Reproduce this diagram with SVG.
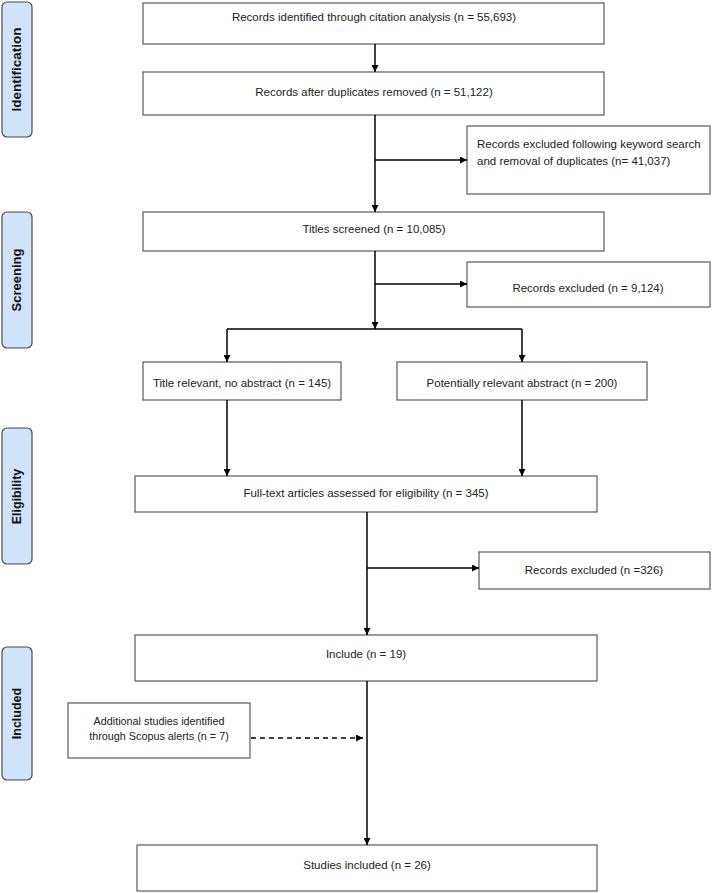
<svg xmlns="http://www.w3.org/2000/svg" width="714" height="893" viewBox="0 0 714 893">
<defs>
<marker id="ah" viewBox="0 0 10 10" refX="10" refY="5" markerWidth="7" markerHeight="7" markerUnits="userSpaceOnUse" orient="auto">
<path d="M0,0 L10,5 L0,10 z" fill="#000"/>
</marker>
<style>
.box{fill:#fff;stroke:#5a5a5a;stroke-width:1.2}
.phase{fill:#cfe3fb;stroke:#4a4a4a;stroke-width:1.2}
.t{font-family:"Liberation Sans","DejaVu Sans",sans-serif;font-size:11.5px;fill:#222}
.c{text-anchor:middle}
.p{font-family:"Liberation Sans","DejaVu Sans",sans-serif;font-size:12.5px;font-weight:bold;fill:#111;text-anchor:middle}
.ln{fill:none;stroke:#000;stroke-width:1.5}
.dash{stroke-dasharray:5,4}
</style>
</defs>
<rect width="714" height="893" fill="#fff"/>

<g id="phase-identification"><rect class="phase" x="2" y="2" width="30" height="135" rx="5"/><text class="p" transform="translate(21,69.5) rotate(-90)" style="font-size:13.5px">Identification</text></g>
<g id="phase-screening"><rect class="phase" x="2" y="212" width="30" height="136" rx="5"/><text class="p" transform="translate(21,280) rotate(-90)" style="font-size:13px">Screening</text></g>
<g id="phase-eligibility"><rect class="phase" x="2" y="428" width="30" height="136" rx="5"/><text class="p" transform="translate(21,496.5) rotate(-90)">Eligibility</text></g>
<g id="phase-included"><rect class="phase" x="2" y="647" width="30" height="133" rx="5"/><text class="p" transform="translate(21,713.5) rotate(-90)">Included</text></g>

<g id="n1"><rect class="box" x="143" y="3" width="461" height="41"/><text class="t c" x="374" y="21">Records identified through citation analysis (n = 55,693)</text></g>
<g id="n2"><rect class="box" x="143" y="72" width="461" height="43"/><text class="t c" x="374" y="96">Records after duplicates removed (n = 51,122)</text></g>
<g id="n3"><rect class="box" x="467" y="126" width="243" height="68"/><text class="t" x="477" y="148">Records excluded following keyword search</text><text class="t" x="477" y="165">and removal of duplicates (n= 41,037)</text></g>
<g id="n4"><rect class="box" x="143" y="212" width="461" height="39"/><text class="t c" x="374" y="233">Titles screened (n = 10,085)</text></g>
<g id="n5"><rect class="box" x="467" y="262" width="243" height="45"/><text class="t c" x="588" y="292">Records excluded (n = 9,124)</text></g>
<g id="n6"><rect class="box" x="143" y="362" width="198" height="38"/><text class="t c" x="242" y="387">Title relevant, no abstract (n = 145)</text></g>
<g id="n7"><rect class="box" x="397" y="362" width="250" height="38"/><text class="t c" x="522" y="387">Potentially relevant abstract (n = 200)</text></g>
<g id="n8"><rect class="box" x="135" y="476" width="462" height="36"/><text class="t c" x="366" y="497">Full-text articles assessed for eligibility (n = 345)</text></g>
<g id="n9"><rect class="box" x="479" y="552" width="231" height="37"/><text class="t c" x="594" y="574">Records excluded (n =326)</text></g>
<g id="n10"><rect class="box" x="135" y="635" width="462" height="46"/><text class="t c" x="366" y="658">Include (n = 19)</text></g>
<g id="n11"><rect class="box" x="68" y="703" width="182" height="55"/><text class="t c" x="159" y="725" style="font-size:10.8px">Additional studies identified</text><text class="t c" x="159" y="740" style="font-size:10.8px">through Scopus alerts (n = 7)</text></g>
<g id="n12"><rect class="box" x="137" y="845" width="460" height="46"/><text class="t c" x="367" y="869">Studies included (n = 26)</text></g>

<g id="connectors">
<line class="ln" x1="375" y1="44" x2="375" y2="72" marker-end="url(#ah)"/>
<line class="ln" x1="375" y1="115" x2="375" y2="212" marker-end="url(#ah)"/>
<line class="ln" x1="375" y1="160" x2="467" y2="160" marker-end="url(#ah)"/>
<line class="ln" x1="375" y1="251" x2="375" y2="329" marker-end="url(#ah)"/>
<line class="ln" x1="375" y1="284" x2="467" y2="284" marker-end="url(#ah)"/>
<polyline class="ln" points="227,329 522,329"/>
<line class="ln" x1="227" y1="329" x2="227" y2="362" marker-end="url(#ah)"/>
<line class="ln" x1="522" y1="329" x2="522" y2="362" marker-end="url(#ah)"/>
<line class="ln" x1="227" y1="400" x2="227" y2="476" marker-end="url(#ah)"/>
<line class="ln" x1="522" y1="400" x2="522" y2="476" marker-end="url(#ah)"/>
<line class="ln" x1="367" y1="512" x2="367" y2="635" marker-end="url(#ah)"/>
<line class="ln" x1="367" y1="568" x2="479" y2="568" marker-end="url(#ah)"/>
<line class="ln" x1="367" y1="681" x2="367" y2="845" marker-end="url(#ah)"/>
<line class="ln dash" x1="251" y1="738" x2="363" y2="738" marker-end="url(#ah)"/>
</g>
</svg>
